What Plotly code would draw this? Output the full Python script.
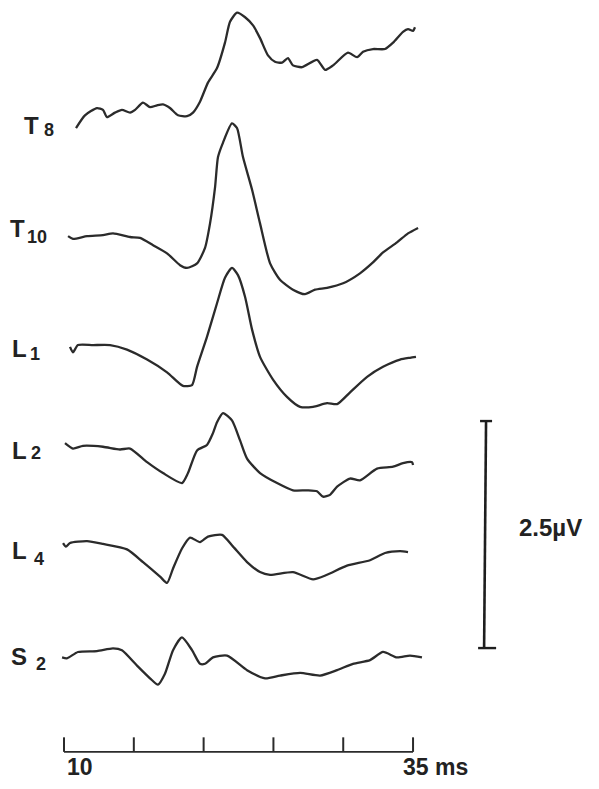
import plotly.graph_objects as go

# Evoked potentials recorded along the spine; time in ms, amplitude in microvolts
# relative to each trace's resting level.
labels = ["T", "T", "L", "L", "L", "S"]
subscripts = ["8", "10", "1", "2", "4", "2"]

t8_ms = [10.86, 11.50, 12.36, 12.79, 13.08, 13.65, 14.15, 14.73, 15.09, 15.66, 16.16, 16.66,
         17.09, 17.59, 18.17, 18.81, 19.24, 19.74, 20.31, 20.96, 21.53, 21.89, 22.39, 22.97,
         23.54, 24.04, 24.61, 25.11, 25.62, 26.04, 26.40, 27.05, 28.12, 28.70, 29.27, 30.34,
         30.99, 31.42, 32.13, 32.99, 33.57, 34.28, 34.64, 35.00, 35.14]
t8_uv = [0.00, 0.14, 0.22, 0.20, 0.12, 0.17, 0.20, 0.17, 0.20, 0.28, 0.23, 0.25,
         0.26, 0.22, 0.14, 0.13, 0.17, 0.29, 0.50, 0.66, 0.94, 1.17, 1.27, 1.22,
         1.13, 0.99, 0.80, 0.73, 0.72, 0.77, 0.69, 0.67, 0.75, 0.64, 0.69, 0.83,
         0.78, 0.84, 0.87, 0.87, 0.94, 1.06, 1.09, 1.07, 1.11]

t10_ms = [10.29, 10.64, 11.65, 12.79, 13.51, 14.73, 15.44, 16.38, 17.38, 18.31, 18.81, 19.53,
          20.10, 20.46, 20.82, 21.03, 21.39, 22.03, 22.39, 22.82, 23.47, 24.04, 24.76, 25.47,
          26.40, 27.26, 27.98, 28.84, 29.99, 31.20, 32.13, 32.85, 33.85, 34.64, 35.36]
t10_uv = [0.00, -0.03, 0.00, 0.01, 0.03, -0.01, -0.02, -0.10, -0.19, -0.32, -0.35, -0.30,
          -0.13, 0.14, 0.54, 0.87, 1.03, 1.24, 1.19, 0.87, 0.51, 0.14, -0.30, -0.48,
          -0.59, -0.64, -0.59, -0.57, -0.52, -0.41, -0.29, -0.18, -0.07, 0.03, 0.09]

l1_ms = [10.43, 10.64, 11.00, 12.08, 13.30, 14.51, 15.95, 17.38, 18.52, 19.17, 19.53, 20.24,
         20.96, 21.53, 22.03, 22.46, 22.97, 23.47, 24.04, 24.97, 25.97, 26.91, 27.84, 28.84,
         29.56, 30.49, 31.71, 32.85, 34.07, 34.78, 35.21]
l1_uv = [0.00, -0.06, 0.02, 0.02, 0.02, -0.03, -0.14, -0.28, -0.43, -0.42, -0.22, 0.11,
         0.48, 0.76, 0.87, 0.79, 0.55, 0.19, -0.11, -0.36, -0.55, -0.66, -0.66, -0.62,
         -0.63, -0.50, -0.33, -0.22, -0.14, -0.12, -0.11]

l2_ms = [10.07, 10.64, 11.36, 12.79, 14.01, 14.73, 15.95, 17.09, 18.45, 18.88, 19.53, 20.24,
         20.67, 20.96, 21.39, 22.03, 22.61, 23.11, 24.04, 25.26, 26.40, 27.41, 28.12, 28.55,
         29.05, 29.56, 30.49, 31.20, 32.42, 33.57, 34.28, 34.93, 35.00]
l2_uv = [0.00, -0.06, -0.03, -0.04, -0.07, -0.06, -0.21, -0.33, -0.44, -0.33, -0.08, -0.02,
         0.11, 0.23, 0.33, 0.25, 0.03, -0.17, -0.33, -0.44, -0.52, -0.52, -0.53, -0.59,
         -0.57, -0.48, -0.39, -0.41, -0.28, -0.26, -0.22, -0.21, -0.24]

l4_ms = [9.93, 10.14, 10.43, 11.65, 12.79, 14.51, 15.66, 16.88, 17.38, 17.81, 18.45, 19.03,
         19.74, 20.31, 21.32, 22.11, 23.11, 24.04, 24.76, 26.40, 27.84, 28.84, 30.27, 31.92,
         32.99, 34.07, 34.64]
l4_uv = [0.00, -0.04, 0.00, 0.02, -0.01, -0.07, -0.21, -0.37, -0.44, -0.28, -0.06, 0.06,
         0.01, 0.07, 0.09, -0.04, -0.21, -0.32, -0.35, -0.32, -0.40, -0.35, -0.25, -0.19,
         -0.11, -0.09, -0.10]

s2_ms = [9.86, 10.21, 11.00, 12.36, 13.51, 14.15, 15.23, 16.16, 16.73, 17.23, 17.81, 18.45,
         19.17, 19.74, 20.10, 20.67, 21.68, 23.11, 24.40, 25.47, 26.91, 28.34, 29.56, 30.70,
         31.92, 32.85, 33.85, 34.78, 35.64]
s2_uv = [0.00, -0.01, 0.06, 0.07, 0.10, 0.08, -0.09, -0.23, -0.30, -0.18, 0.08, 0.22,
         0.08, -0.07, -0.07, 0.00, 0.02, -0.14, -0.23, -0.20, -0.17, -0.20, -0.14, -0.07,
         -0.03, 0.06, 0.00, 0.02, 0.00]

times = [t8_ms, t10_ms, l1_ms, l2_ms, l4_ms, s2_ms]
values = [t8_uv, t10_uv, l1_uv, l2_uv, l4_uv, s2_uv]

# time calibration (ms) and amplitude calibration (uV)
time_ticks = [10, 15, 20, 25, 30, 35]
scale_uv = 2.5

# vertical stacking of the traces (uV)
offsets = [-1.41, -2.60, -3.82, -4.88, -5.98, -7.24]
# label placement: (letter x, letter y, subscript x, subscript y)
label_pos = [(7.64, -1.377, 8.90, -1.437),
             (6.70, -2.511, 8.10, -2.610),
             (6.78, -3.833, 7.90, -3.899),
             (6.78, -4.956, 8.00, -4.994),
             (6.78, -6.057, 8.20, -6.156),
             (6.78, -7.225, 8.35, -7.313)]

ink = "#2b2b2b"
font_family = "Liberation Sans, Arial, Helvetica, sans-serif"

fig = go.Figure()

for t, v, off in zip(times, values, offsets):
    fig.add_trace(go.Scatter(
        x=t, y=[off + a for a in v], mode="lines",
        line=dict(color=ink, width=2.3, shape="spline", smoothing=0.6),
        hoverinfo="skip", showlegend=False))

# time bar with 5 ms ticks
bar_y = -8.28
tick_len = 0.16
fig.add_trace(go.Scatter(
    x=[time_ticks[0], time_ticks[-1]], y=[bar_y, bar_y], mode="lines",
    line=dict(color=ink, width=1.6), hoverinfo="skip", showlegend=False))
tx, ty = [], []
for tk in time_ticks:
    tx += [tk, tk, None]
    ty += [bar_y, bar_y + tick_len, None]
fig.add_trace(go.Scatter(
    x=tx, y=ty, mode="lines", line=dict(color=ink, width=2),
    hoverinfo="skip", showlegend=False))

# amplitude calibration bar
cal_top = -4.637
cal_bot = cal_top - scale_uv
fig.add_trace(go.Scatter(
    x=[40.23, 40.09], y=[cal_top, cal_bot], mode="lines",
    line=dict(color="#1e1e1e", width=2.6), hoverinfo="skip", showlegend=False))
fig.add_trace(go.Scatter(
    x=[39.80, 40.66, None, 39.66, 40.95], y=[cal_top, cal_top, None, cal_bot, cal_bot],
    mode="lines", line=dict(color="#1e1e1e", width=2.4),
    hoverinfo="skip", showlegend=False))

annotations = []
for lab, sub, (lx, ly, sx, sy) in zip(labels, subscripts, label_pos):
    annotations.append(dict(x=lx, y=ly, text=lab, showarrow=False,
                            font=dict(family=font_family, size=24, color="#222", weight="bold"),
                            xanchor="center", yanchor="middle"))
    annotations.append(dict(x=sx, y=sy, text=sub, showarrow=False,
                            font=dict(family=font_family, size=18, color="#222", weight="bold"),
                            xanchor="center", yanchor="middle"))

annotations.append(dict(x=10.07, y=-8.447, text=str(time_ticks[0]), showarrow=False,
                        xanchor="left", yanchor="middle",
                        font=dict(family=font_family, size=23, color="#222", weight="bold")))
annotations.append(dict(x=34.15, y=-8.447, text=f"{time_ticks[-1]} ms", showarrow=False,
                        xanchor="left", yanchor="middle",
                        font=dict(family=font_family, size=23, color="#222", weight="bold")))
annotations.append(dict(x=44.85, y=-5.804, text=f"{scale_uv}\u00b5V", showarrow=False,
                        xanchor="center", yanchor="middle",
                        font=dict(family=font_family, size=24, color="#222", weight="bold")))

fig.update_layout(
    width=599, height=789,
    margin=dict(l=0, r=0, t=0, b=0),
    paper_bgcolor="white", plot_bgcolor="white",
    xaxis=dict(range=[5.415, 48.32], visible=False, fixedrange=True),
    yaxis=dict(range=[-8.689, 0], visible=False, fixedrange=True),
    annotations=annotations,
)

fig.write_html("out.html")
